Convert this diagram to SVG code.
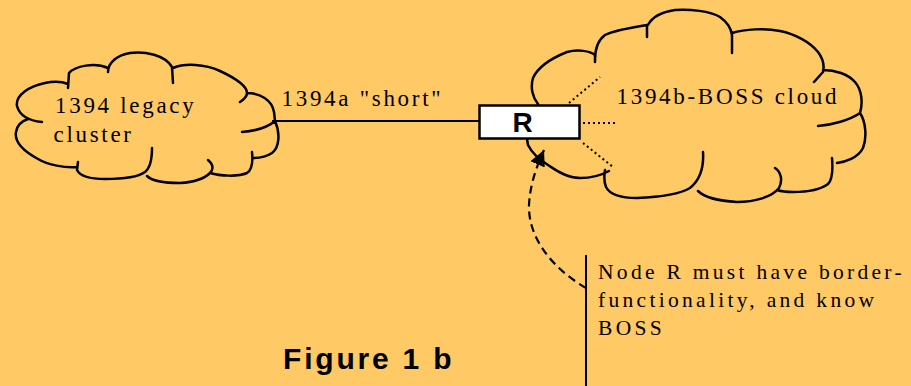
<svg xmlns="http://www.w3.org/2000/svg" width="911" height="386" viewBox="0 0 911 386">
<style>
.cloud{fill:none;stroke:#000;stroke-width:2.5;stroke-linecap:round;stroke-linejoin:round}
.serif{font-family:"Liberation Serif","Times New Roman",serif;font-size:23px;fill:#000;letter-spacing:2.7px}
.sans{font-family:"Liberation Sans",Arial,sans-serif;font-weight:bold;fill:#000}
.dot{stroke:#000;stroke-width:2;stroke-dasharray:2 3;fill:none}
</style>
<defs>
<marker id="ah" markerUnits="userSpaceOnUse" viewBox="0 -8 16 16" refX="15.7" refY="0" markerWidth="16" markerHeight="16" orient="auto">
<path d="M0,-7.8 L15.7,0 L0,7.8 z" fill="#000"/>
</marker>
</defs>
<rect x="0" y="0" width="911" height="386" fill="#FFC966"/>

<g id="legacy-cluster">
<path class="cloud" d="M42,122 C32,121 20,117 17,106 C15,95 30,86 45,83 C55,81 63,82 68,84
M68,88 L69,73 C75,66 95,62 108,68
M108,72 C108,62 118,55 130,53 C145,51 165,55 172,67 L173,83
M173,68 C185,63 205,64 220,71 C235,78 247,86 247,93 C247,97 243,100 240,102
M247,93 C260,93 272,100 274,112 L275,121
M242,132 C255,131 268,127 275,121 C280,132 280,147 272,153 C266,157 258,158 253,158
M252,152 C253,162 252,170 247,173 C238,177 220,176 210,173
M208,160 C213,164 214,169 210,173 C205,178 195,182 180,183 C165,183 152,181 147,176
M152,148 C152,160 150,168 145,172 C138,177 120,179 105,179 C90,179 80,176 77,170 L78,162
M77,167 C65,168 48,165 38,159 C25,152 14,143 16,132 C17,125 22,121 28,119"/>
<text class="serif" x="55" y="112.5">1394 legacy</text>
<text class="serif" x="53.5" y="141.5">cluster</text>
</g>

<g id="boss-cloud">
<path class="cloud" d="M538,104 C533,98 530,88 533,78 C538,67 552,58 567,52 C578,49 590,51 595,55 L595,62
M595,60 C595,48 598,40 605,35 C615,30 635,27 647,25 L647,37
M648,25 C652,17 662,12 675,10 C690,9 710,11 720,17 C727,22 731,28 732,35 L732,53
M732,33 C745,29 765,28 780,31 C795,34 810,42 818,52 C824,60 824,68 823,72 L814,82
M823,70 C835,70 848,74 855,82 C862,90 863,103 860,113
M818,126 C832,125 850,120 860,113 C866,122 867,138 863,148 C858,158 845,162 837,163
M832,158 C833,170 832,180 828,184 C820,190 805,192 793,192 C785,192 780,191 777,190
M775,168 C781,172 783,180 779,188 C772,197 755,202 737,202 C720,201 705,198 698,191
M703,152 C704,168 700,180 690,188 C680,194 660,197 637,198 C622,198 610,195 606,187 C604,182 604,176 605,170
M609,171 C600,176 590,178 580,178 C568,178 558,172 548,165 C540,160 532,153 528,145 L527,139"/>
<text class="serif" x="616.5" y="103.5">1394b-BOSS cloud</text>
</g>

<g id="connectors">
<line x1="272" y1="121" x2="480" y2="121" stroke="#000" stroke-width="2"/>
<line class="dot" x1="569" y1="103" x2="600" y2="77"/>
<line class="dot" x1="583" y1="123" x2="618" y2="123"/>
<line class="dot" x1="583" y1="143" x2="613" y2="167"/>
<path d="M586,288 C555,270 528,240 529,205 C530,185 536,168 544,150" fill="none" stroke="#000" stroke-width="2.2" stroke-dasharray="8 5" marker-end="url(#ah)"/>
</g>

<g id="node-R">
<rect x="479.5" y="105.5" width="100" height="33" fill="#fff" stroke="#000" stroke-width="2.5"/>
<text class="sans" x="522.7" y="131.5" font-size="28" text-anchor="middle">R</text>
</g>

<text class="serif" x="281.5" y="105.5">1394a "short"</text>

<g id="note">
<line x1="586" y1="255" x2="586" y2="386" stroke="#000" stroke-width="2"/>
<text class="serif" style="font-size:21.5px;letter-spacing:3.3px">
<tspan x="598" y="279.3">Node R must have border-</tspan>
<tspan x="598" y="307">functionality, and know</tspan>
<tspan x="598" y="335">BOSS</tspan>
</text>
</g>

<text class="sans" x="283" y="369.3" font-size="30" letter-spacing="2.8">Figure 1 b</text>
</svg>
